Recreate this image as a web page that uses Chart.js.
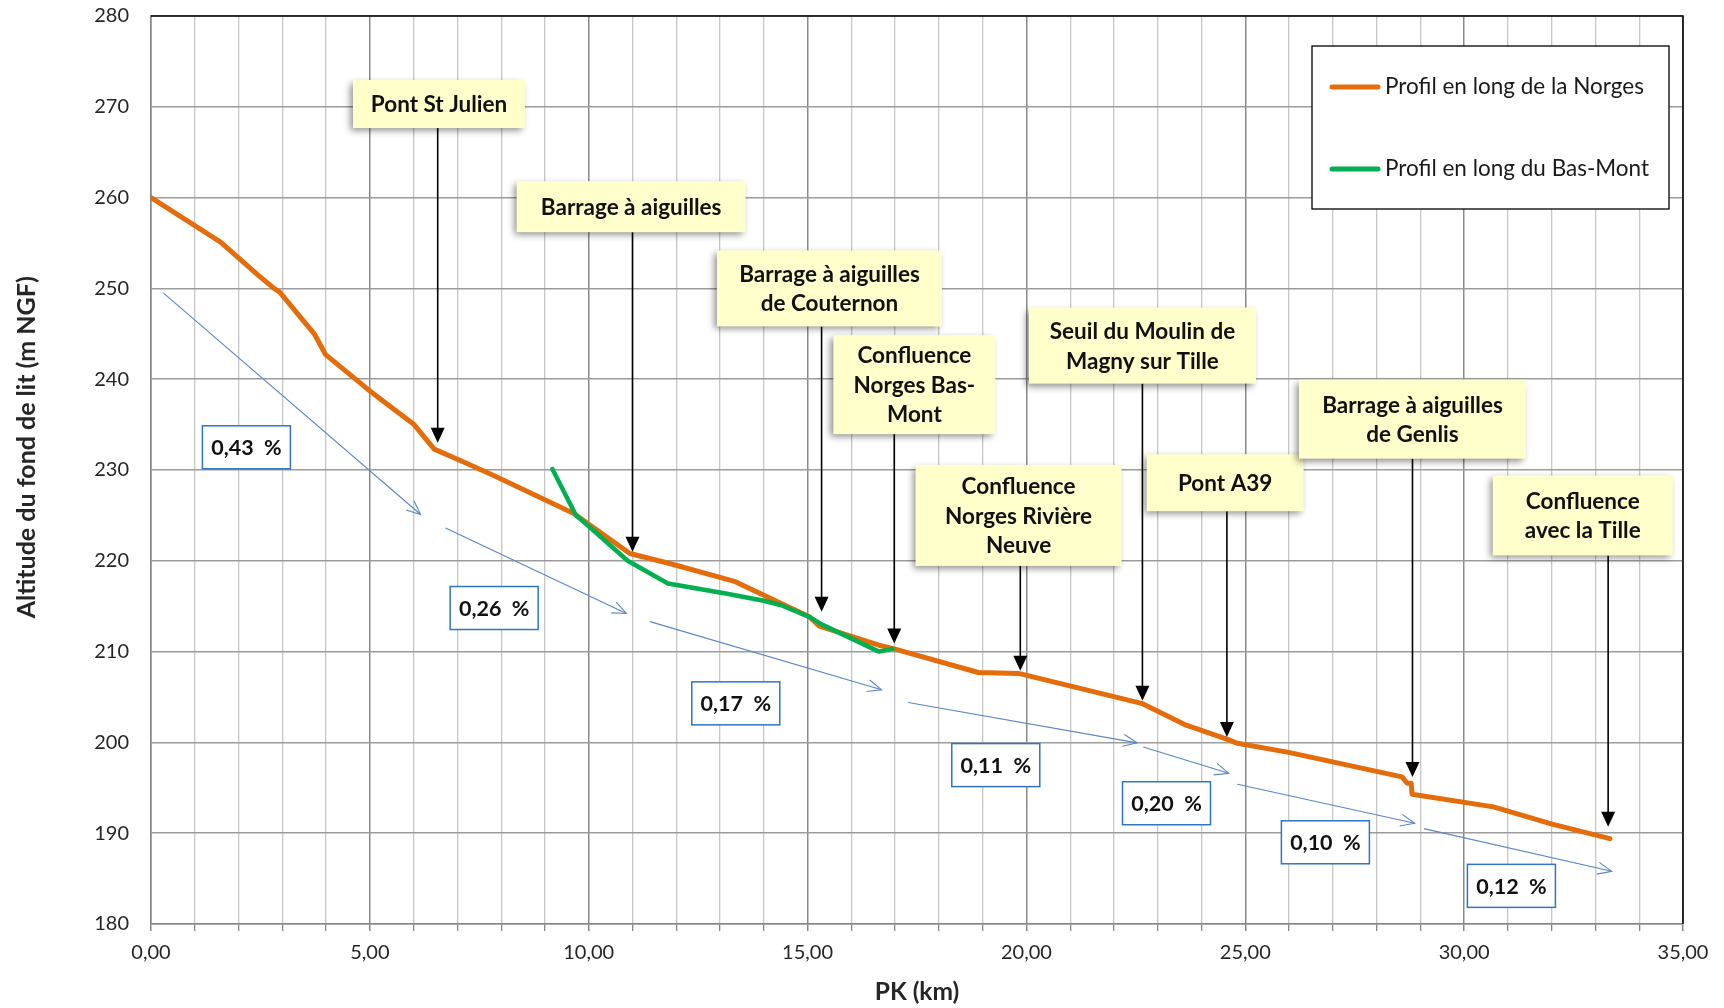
<!DOCTYPE html>
<html>
<head>
<meta charset="utf-8">
<title>Profil en long de la Norges</title>
<script src="https://cdn.jsdelivr.net/npm/chart.js@4.4.1/dist/chart.umd.min.js"></script>
<style>
    html, body { margin: 0; padding: 0; background: #fff; }
    #chart { display: block; }
</style>
</head>
<body>
<canvas id="chart" width="1724" height="1008"></canvas>
<script>
// ==========
// Profil en long de la Norges et du Bas-Mont
// ==========

// profil de la Norges (PK en km, altitude en m NGF)
const norgesPk = [0, 1.59, 2.44, 2.81, 2.94, 3.73, 3.99, 4.95, 5.30, 6.01, 6.47, 7.04, 7.78, 9.66, 10.94, 11.85, 13.35, 14.40, 15.05, 15.27, 16.63, 16.98, 18.90, 19.82, 22.63, 23.65, 24.61, 24.82, 25.99, 28.58, 28.70, 28.79, 28.81, 30.67, 32.01, 33.33];
const norgesZ = [260.0, 255.1, 251.5, 250.0, 249.6, 245.0, 242.7, 238.9, 237.6, 235.0, 232.3, 231.1, 229.5, 225.2, 220.8, 219.7, 217.7, 215.3, 213.8, 212.8, 210.7, 210.3, 207.7, 207.6, 204.3, 201.9, 200.3, 199.9, 198.9, 196.2, 195.5, 195.5, 194.3, 192.9, 191.0, 189.4];

// profil du Bas-Mont
const basMontPk = [9.17, 9.71, 10.00, 10.89, 11.81, 13.13, 14.00, 14.40, 15.05, 15.32, 16.63, 16.94];
const basMontZ = [230.1, 225.0, 223.8, 220.0, 217.5, 216.4, 215.6, 215.1, 213.8, 213.0, 210.0, 210.3];

// pentes moyennes (flèches bleues)
const slopeFromPk = [0.28, 6.73, 11.40, 17.30, 22.67, 24.82, 29.08];
const slopeFromZ = [249.5, 223.6, 213.3, 204.4, 199.5, 195.4, 190.5];
const slopeToPk = [6.16, 10.86, 16.69, 22.53, 24.62, 28.87, 33.37];
const slopeToZ = [225.1, 214.2, 205.8, 199.95, 196.6, 191.1, 185.8];
const slopeLabels = ['0,43  %', '0,26  %', '0,17  %', '0,11  %', '0,20  %', '0,10  %', '0,12  %'];
const slopeLabelPk = [2.18, 7.84, 13.36, 19.30, 23.20, 26.83, 31.08];
const slopeLabelZ = [232.5, 214.8, 204.3, 197.5, 193.3, 189.0, 184.2];

// ouvrages (étiquettes jaunes + flèches noires)
const calloutText = [
    ['Pont St Julien'],
    ['Barrage à aiguilles'],
    ['Barrage à aiguilles', 'de Couternon'],
    ['Confluence', 'Norges Bas-', 'Mont'],
    ['Seuil du Moulin de', 'Magny sur Tille'],
    ['Confluence', 'Norges Rivière', 'Neuve'],
    ['Pont A39'],
    ['Barrage à aiguilles', 'de Genlis'],
    ['Confluence', 'avec la Tille']
];
const calloutPk = [6.55, 11.00, 15.32, 16.98, 22.65, 19.86, 24.58, 28.82, 33.29];
const calloutTipZ = [233.0, 221.0, 214.4, 210.9, 204.6, 207.9, 200.6, 196.2, 190.7];
const calloutBoxPk = [6.58, 10.97, 15.50, 17.44, 22.65, 19.82, 24.54, 28.82, 32.71];
const calloutBoxZ = [270.3, 259.0, 250.0, 239.4, 243.7, 225.0, 228.6, 235.6, 225.0];

// tailles des étiquettes (px)
const calloutW = [172, 229, 225, 162, 227, 206, 157, 227, 180];
const calloutH = [48, 51, 76, 99, 76, 101, 57, 79, 80];

const ORANGE = '#E46C0A';
const GREEN = '#00B050';
const FONT = 'Lato, "Open Sans", sans-serif';
const Y_TITLE = 'Altitude du fond de lit (m NGF)';

function toPoints(xs, ys) {
    return xs.map((v, i) => ({ x: v, y: ys[i] }));
}

function fmtKm(v) {
    return v.toFixed(2).replace('.', ',');
}

// flèche : pointe pleine ou ouverte
function arrowHead(ctx, x1, y1, x2, y2, len, half, filled) {
    const ang = Math.atan2(y2 - y1, x2 - x1);
    const bx = x2 - len * Math.cos(ang);
    const by = y2 - len * Math.sin(ang);
    const px = -Math.sin(ang) * half;
    const py = Math.cos(ang) * half;
    ctx.beginPath();
    ctx.moveTo(bx + px, by + py);
    ctx.lineTo(x2, y2);
    ctx.lineTo(bx - px, by - py);
    if (filled) {
        ctx.closePath();
        ctx.fill();
    } else {
        ctx.stroke();
    }
}

const profilDecor = {
    id: 'profilDecor',
    beforeDraw(chart) {
        const ctx = chart.ctx;
        ctx.save();
        ctx.fillStyle = '#fff';
        ctx.fillRect(0, 0, chart.width, chart.height);
        ctx.restore();
    },
    afterDatasetsDraw(chart) {
        const { ctx, chartArea: a, scales: { x, y } } = chart;
        ctx.save();

        // cadre haut / droite
        ctx.strokeStyle = '#000';
        ctx.lineWidth = 1.5;
        ctx.beginPath();
        ctx.moveTo(a.left, a.top);
        ctx.lineTo(a.right, a.top);
        ctx.lineTo(a.right, a.bottom);
        ctx.stroke();

        // titre de l'axe vertical (un peu au-dessus du centre, comme l'original)
        ctx.save();
        ctx.translate(27, a.top + (a.bottom - a.top) * 0.475);
        ctx.rotate(-Math.PI / 2);
        ctx.font = 'bold 25px ' + FONT;
        ctx.fillStyle = '#262626';
        ctx.textAlign = 'center';
        ctx.textBaseline = 'middle';
        ctx.fillText(Y_TITLE, 0, 0);
        ctx.restore();

        // pentes
        ctx.strokeStyle = '#5A86C6';
        ctx.lineWidth = 1.1;
        for (let i = 0; i < slopeFromPk.length; i++) {
            const x1 = x.getPixelForValue(slopeFromPk[i]);
            const y1 = y.getPixelForValue(slopeFromZ[i]);
            const x2 = x.getPixelForValue(slopeToPk[i]);
            const y2 = y.getPixelForValue(slopeToZ[i]);
            ctx.beginPath();
            ctx.moveTo(x1, y1);
            ctx.lineTo(x2, y2);
            ctx.stroke();
            arrowHead(ctx, x1, y1, x2, y2, 14, 6, false);
        }

        // valeurs de pente
        ctx.font = 'bold 21.5px ' + FONT;
        ctx.textAlign = 'center';
        ctx.textBaseline = 'middle';
        for (let i = 0; i < slopeLabels.length; i++) {
            const cx = x.getPixelForValue(slopeLabelPk[i]);
            const cy = y.getPixelForValue(slopeLabelZ[i]);
            ctx.fillStyle = '#fff';
            ctx.fillRect(cx - 44, cy - 21.5, 88, 43);
            ctx.strokeStyle = '#2E75C6';
            ctx.lineWidth = 1.5;
            ctx.strokeRect(cx - 44, cy - 21.5, 88, 43);
            ctx.fillStyle = '#111';
            ctx.fillText(slopeLabels[i], cx, cy + 1);
        }

        // ouvrages
        for (let i = 0; i < calloutText.length; i++) {
            const cx = x.getPixelForValue(calloutBoxPk[i]);
            const cy = y.getPixelForValue(calloutBoxZ[i]);
            const w = calloutW[i];
            const h = calloutH[i];
            const ax = x.getPixelForValue(calloutPk[i]);
            const tipY = y.getPixelForValue(calloutTipZ[i]);

            // flèche noire
            ctx.strokeStyle = '#000';
            ctx.fillStyle = '#000';
            ctx.lineWidth = 1.6;
            ctx.beginPath();
            ctx.moveTo(ax, cy + h / 2);
            ctx.lineTo(ax, tipY - 12);
            ctx.stroke();
            arrowHead(ctx, ax, cy + h / 2, ax, tipY, 15, 7, true);

            // boîte jaune avec ombre
            ctx.save();
            ctx.shadowColor = 'rgba(0,0,0,0.45)';
            ctx.shadowBlur = 7;
            ctx.shadowOffsetX = -3;
            ctx.shadowOffsetY = 3;
            ctx.fillStyle = '#FFFFCC';
            ctx.fillRect(cx - w / 2, cy - h / 2, w, h);
            ctx.restore();

            ctx.fillStyle = '#111';
            ctx.font = 'bold 22.5px ' + FONT;
            const lines = calloutText[i];
            const lh = 29.5;
            const y0 = cy - (lines.length - 1) * lh / 2;
            lines.forEach((t, k) => ctx.fillText(t, cx, y0 + k * lh + 1));
        }

        // légende
        const lx = a.right - 371;
        const ly = a.top + 30;
        ctx.fillStyle = '#fff';
        ctx.fillRect(lx, ly, 357, 163);
        ctx.strokeStyle = '#000';
        ctx.lineWidth = 1.3;
        ctx.strokeRect(lx, ly, 357, 163);
        ctx.textAlign = 'left';
        ctx.font = '22.5px ' + FONT;
        ctx.lineCap = 'round';
        chart.data.datasets.forEach((ds, k) => {
            const yy = ly + 41 + k * 82;
            ctx.strokeStyle = ds.borderColor;
            ctx.lineWidth = 5;
            ctx.beginPath();
            ctx.moveTo(lx + 20, yy);
            ctx.lineTo(lx + 66, yy);
            ctx.stroke();
            ctx.fillStyle = '#1a1a1a';
            ctx.fillText(ds.label, lx + 73, yy);
        });

        ctx.restore();
    }
};

const ctx = document.getElementById('chart');
const chart = new Chart(ctx, {
    type: 'line',
    data: {
        datasets: [
            {
                label: 'Profil en long de la Norges',
                data: toPoints(norgesPk, norgesZ),
                borderColor: ORANGE,
                borderWidth: 5,
                order: 2
            },
            {
                label: 'Profil en long du Bas-Mont',
                data: toPoints(basMontPk, basMontZ),
                borderColor: GREEN,
                borderWidth: 4.5,
                order: 1
            }
        ]
    },
    options: {
        responsive: false,
        animation: false,
        events: [],
        elements: {
            point: { radius: 0 },
            line: { tension: 0, borderJoinStyle: 'round', borderCapStyle: 'round' }
        },
        layout: {
            padding: { top: 16, right: 41, left: 0, bottom: 0 }
        },
        plugins: {
            legend: { display: false },
            tooltip: { enabled: false }
        },
        scales: {
            x: {
                type: 'linear',
                min: 0,
                max: 35,
                afterFit: (s) => {
                    s.height = 84;
                    s.paddingLeft = 0;
                    s.paddingRight = 0;
                    s.paddingTop = 0;
                    s.paddingBottom = 0;
                },
                border: { color: '#868686', width: 1.5 },
                grid: {
                    color: (c) => (c.tick && c.tick.value % 5 === 0) ? '#8a8a8a' : '#c6c6c6',
                    lineWidth: (c) => (c.tick && c.tick.value % 5 === 0) ? 1.5 : 1.3,
                    drawTicks: true,
                    tickLength: 7,
                    tickColor: '#868686'
                },
                ticks: {
                    stepSize: 1,
                    autoSkip: false,
                    maxRotation: 0,
                    padding: 10,
                    color: '#262626',
                    font: { family: FONT, size: 20 },
                    callback: (v) => (v % 5 === 0) ? fmtKm(v) : ''
                },
                title: {
                    display: true,
                    text: 'PK (km)',
                    color: '#262626',
                    font: { family: FONT, size: 24.5, weight: 'bold' },
                    padding: { top: 0, bottom: 1 }
                }
            },
            y: {
                min: 180,
                max: 280,
                afterFit: (s) => {
                    s.width = 151;
                    s.paddingTop = 0;
                    s.paddingBottom = 0;
                    s.paddingLeft = 0;
                    s.paddingRight = 0;
                },
                border: { color: '#868686', width: 1.5 },
                grid: {
                    color: '#9c9c9c',
                    lineWidth: 1.5,
                    drawTicks: false
                },
                ticks: {
                    stepSize: 10,
                    padding: 22,
                    color: '#262626',
                    font: { family: FONT, size: 20 }
                },
                title: { display: false }
            }
        }
    },
    plugins: [profilDecor]
});
</script>
</body>
</html>
